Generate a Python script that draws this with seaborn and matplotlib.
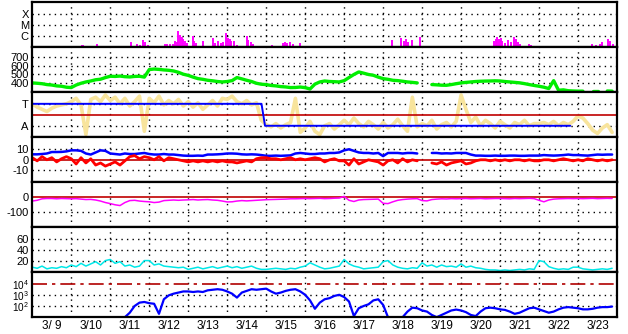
import numpy as np
import pandas as pd
import matplotlib
matplotlib.use("Agg")
import matplotlib.pyplot as plt
import seaborn as sns

# ---------------- data ----------------
day_labels = ["3/ 9", "3/10", "3/11", "3/12", "3/13", "3/14", "3/15", "3/16",
              "3/17", "3/18", "3/19", "3/20", "3/21", "3/22", "3/23"]
per_day = 8  # samples per day for the sampled series

# X-ray flare spikes (day offset, log10 flux)
xray_day = [1.27, 1.31, 1.65, 2.18, 2.38, 2.52, 2.69, 2.76, 2.85, 2.89, 2.98, 3.15,
            3.40, 3.46, 3.53, 3.60, 3.66, 3.70, 3.75, 3.79, 3.83, 3.87, 3.91, 3.96,
            4.00, 4.11, 4.15, 4.20, 4.39, 4.47, 4.64, 4.68, 4.77, 4.83, 4.90, 4.98,
            5.03, 5.07, 5.11, 5.17, 5.24, 5.50, 5.54, 5.60, 5.67, 5.84, 6.14, 6.44,
            6.48, 6.54, 6.61, 6.69, 6.78, 6.88,
            8.51, 8.66, 8.73, 8.90, 9.24, 9.47, 9.53, 9.58, 9.64, 9.73, 9.94, 10.20,
            10.35, 10.44, 11.35, 11.48, 11.56, 11.84, 11.89, 11.93, 11.97, 12.02, 12.06,
            12.12, 12.21, 12.27, 12.36, 12.40, 12.45, 12.51, 12.75, 12.80, 13.00, 13.10,
            13.23, 13.66, 14.37, 14.45, 14.56, 14.62, 14.77, 14.83, 14.89]
xray_log = [-6.82, -6.82, -6.80, -6.93, -6.90, -6.58, -6.80, -6.85, -6.36, -6.60, -6.85, -6.95,
            -6.80, -6.76, -6.80, -6.80, -6.45, -6.60, -5.60, -5.90, -6.10, -6.30, -6.50, -6.70,
            -6.90, -6.06, -6.50, -6.70, -6.45, -6.90, -6.18, -6.70, -6.50, -6.70, -6.60, -5.76,
            -6.20, -6.30, -6.50, -6.45, -6.85, -6.06, -6.40, -6.60, -6.80, -6.90, -6.85, -6.70,
            -6.55, -6.65, -6.60, -6.75, -6.90, -6.65,
            -6.90, -6.95, -6.95, -6.98, -6.43, -6.18, -6.45, -6.30, -6.60, -6.40, -6.13, -6.95,
            -6.90, -6.93, -6.98, -6.98, -6.98, -6.50, -6.30, -6.10, -6.35, -6.20, -6.45,
            -6.70, -6.40, -6.55, -6.15, -6.35, -6.60, -6.75, -6.80, -6.85, -6.90, -6.95,
            -6.95, -6.98, -6.80, -6.85, -6.75, -6.60, -6.30, -6.50, -6.75]

nan = np.nan
# solar wind speed (km/s)
speed = [404, 400, 395, 385, 380, 370, 366, 355,
         351, 380, 400, 415, 426, 440, 446, 465,
         480, 478, 482, 475, 472, 478, 480, 470,
         556, 562, 558, 552, 548, 540, 525, 503,
         490, 470, 453, 445, 434, 428, 420, 415,
         420, 430, 465, 450, 434, 420, 400, 389,
         385, 375, 370, 362, 358, 351, 352, 357,
         350, 335, 390, 415, 426, 420, 418, 415,
         430, 465, 500, 529, 515, 500, 491, 470,
         453, 445, 434, 430, 423, 415, 410, 404,
         nan, nan, 385, 382, 378, 377, 385, 395,
         404, 410, 415, 420, 423, 425, 426, 428,
         426, 420, 415, 410, 405, 396, 385, 375,
         366, 355, 340, 430, 320, 325, 315, 312,
         310, 310, nan, 310, 310, nan, 312, 310]

# IMF sector (observed, T=+1 / A=-1 scale)
sector_obs = [1.0, 0.7, 0.5, 0.3, 0.6, 0.8, 0.9, 1.0,
              1.2, 1.5, 0.9, -1.8, 1.4, 1.6, 1.2, 1.8,
              1.3, 1.6, 1.0, 1.5, 0.8, 1.2, 1.7, -1.5,
              1.5, 1.1, 1.7, 0.9, 1.3, 1.0, 1.4, 0.8,
              1.2, 0.7, 1.1, 0.5, 0.9, 1.3, 0.8, 1.5,
              1.4, 1.7, 1.2, 1.0, 1.3, 0.9, 1.1, -0.5,
              -0.9, -1.1, -0.8, -1.2, -0.9, -0.7, 1.5, -1.6,
              -1.2, -0.6, -1.5, -1.8, -1.0, -0.8, -1.3, -0.9,
              -0.5, -0.9, -0.3, -0.8, -1.1, -0.6, -0.9, -1.3,
              -0.7, -1.2, -0.9, -0.4, -1.0, -1.5, 1.6, -1.1,
              -0.8, -1.0, -0.5, -1.3, -0.9, -0.7, -1.1, -0.6,
              1.8, 0.5, -0.7, -0.2, -1.0, -0.5, -0.8, -1.2,
              -0.6, -0.9, -1.2, -0.7, -0.9, -0.5, -1.0, -0.8,
              -0.8, -0.7, -0.9, -0.6, -1.0, -0.7, -0.9, -0.6,
              -0.1, -0.3, -0.8, -1.4, -1.7, -1.2, -0.9, -1.6]
sector_pred_day = [0.0, 5.88, 5.97, 13.8]
sector_pred_val = [1, 1, -1, -1]

# IMF |B| (nT)
bt = [5.2, 5.2, 5.5, 6.0, 7.4, 7.4, 7.5, 8.0,
      9.0, 9.0, 8.5, 6.0, 5.0, 7.0, 9.0, 8.5,
      6.0, 5.5, 5.0, 6.0, 5.5, 5.5, 6.0, 6.5,
      5.5, 5.0, 5.0, 5.5, 5.0, 5.0, 4.5, 4.0,
      3.8, 3.8, 4.0, 3.8, 5.0, 5.0, 5.2, 5.5,
      6.0, 6.0, 5.8, 5.2, 5.0, 5.2, 5.0, 4.5,
      3.8, 3.8, 4.0, 3.8, 4.0, 4.2, 6.0, 6.5,
      6.0, 5.5, 5.5, 6.0, 6.0, 6.5, 6.5, 7.0,
      9.0, 10.0, 8.5, 7.0, 6.5, 6.5, 6.0, 6.5,
      3.5, 6.5, 6.5, 6.5, 6.0, 6.5, 6.5, 6.0,
      nan, nan, 6.5, 6.5, 6.0, 6.2, 6.0, 6.5,
      6.5, 6.5, 5.0, 4.0, 4.0, 3.8, 3.8, 4.0,
      3.8, 3.8, 4.0, 4.0, 3.8, 3.8, 4.0, 4.0,
      4.0, 4.5, 4.2, 4.0, 4.2, 4.5, 5.0, 4.5,
      4.5, 4.2, 4.0, 4.5, 5.0, 4.8, 5.0, 5.0]
# IMF Bz (nT)
bz = [2, -1, 3, 0, 2, -2, 1, 3,
      1, -4, 2, -3, 1, -5, -3, -6,
      -4, -2, -5, -1, 3, 4, 1, 3,
      2, 0, 3, -1, 2, 1, 0, -1,
      -2, -1, -2, -1, -2, -1, -2, -1,
      -2, -2, -3, -2, -1, -2, 1, 2,
      2, 1, 1, 0, 1, 2, 0, 1,
      0, 1, 2, 1, -2, 0, 1, -1,
      -1, -5, 1, -4, -2, 0, -1, -2,
      -5, -1, 0, -3, 1, -2, 0, -1,
      nan, nan, -3, -4, -2, -5, -3, -2,
      -1, -4, -3, -1, 0, 0, -1, 0,
      -1, 0, -1, 0, 0, -1, 0, -1,
      -1, 0, 0, -1, 0, 1, 0, -1,
      0, -1, 1, 0, -1, 0, -1, 0]

# Dst (nT)
dst = [-25, -20, -10, -8, -8, -10, -8, -9,
       -10, -9, -12, -15, -14, -18, -25, -35,
       -42, -50, -55, -35, -22, -20, -25, -28,
       -30, -35, -32, -22, -20, -18, -20, -18,
       -17, -15, -18, -16, -15, -18, -20, -25,
       -31, -30, -25, -22, -24, -22, -20, -18,
       -16, -15, -14, -13, -12, -10, -10, -9,
       -8, -9, -8, -7, -9, -8, -6, -5,
       6, -20, -28, -18, -15, -14, -13, -12,
       -40, -42, -30, -20, -15, -12, -10, -9,
       -22, -24, -15, -12, -10, -11, -9, -10,
       -9, -8, -10, -9, -8, -10, -9, -8,
       -8, -9, -10, -8, -9, -8, -7, -9,
       -20, -30, -18, -12, -10, -9, -8, -9,
       -8, -9, -8, -7, -9, -8, -7, -8]

# geomagnetic activity index
activity = [8, 6, 10, 5, 7, 6, 9, 7,
            12, 9, 15, 10, 14, 18, 12, 20,
            22, 15, 18, 10, 12, 8, 10, 20,
            20, 12, 14, 10, 9, 8, 7, 8,
            4, 6, 8, 5, 7, 9, 6, 8,
            10, 7, 9, 6, 8, 10, 6, 4,
            4, 5, 6, 5, 4, 6, 5, 8,
            10, 16, 12, 8, 5, 6, 8, 10,
            22, 14, 10, 8, 5, 6, 7, 8,
            18, 20, 12, 8, 6, 5, 7, 6,
            16, 10, 12, 8, 12, 9, 10, 8,
            14, 8, 10, 7, 6, 4, 3, 3,
            2, 3, 2, 3, 4, 3, 5, 4,
            20, 18, 9, 6, 4, 5, 4, 8,
            8, 5, 4, 3, 4, 5, 4, 6]

# energetic electron flux (log10)
electron_log = [nan] * 19 + [
    1.0, 1.4, 2.0, 2.3, 2.36,
    2.25, 2.2, 1.3, 2.6, 2.95, 3.1, 3.2, 3.3,
    3.3, 3.25, 3.3, 3.25, 3.4, 3.45, 3.5, 3.45,
    3.3, 3.1, 2.75, 3.2, 3.35, 3.5, 3.45, 3.5,
    3.55, 3.3, 3.1, 3.2, 3.35, 3.45, 3.5, 3.3,
    3.0, 2.5, 1.75, 2.3, 2.6, 2.7, 2.9, 3.0,
    2.8, 2.4, 1.1, 1.8, 2.0, 2.15, 2.5, 2.6,
    2.1, 1.0, 0.9, 0.9, 1.0, 1.5, 1.85, 1.8,
    1.6, 1.5, 1.2, 1.0, 1.2, 1.4, 1.6, 1.68,
    1.6, 1.45, 1.2, 1.1, 1.5, 1.8, 1.85, 1.8,
    1.7, 1.65, 1.5, 1.3, 1.4, 1.6, 1.8, 1.85,
    1.7, 1.55, 1.4, 1.5, 1.7, 1.85, 1.9, 1.85,
    1.8, 1.7, 1.7, 1.75, 1.85, 1.9, 1.9, 1.95]

# ---------------- style ----------------
sns.set_style("white")
plt.rcParams['font.family'] = ['Liberation Sans', 'DejaVu Sans']
plt.rcParams['mathtext.fontset'] = 'custom'
plt.rcParams['mathtext.rm'] = 'Liberation Sans'
plt.rcParams['mathtext.it'] = 'Liberation Sans'

t = np.arange(len(speed)) / per_day
W, H = 628, 334
fig = plt.figure(figsize=(W / 100, H / 100), dpi=100)
left, right = 32.3 / W, 617 / W
top_px, panel_px = 2.3, 45.0
axes = []
for i in range(7):
    y0 = 1 - (top_px + (i + 1) * panel_px) / H
    ax = fig.add_axes([left, y0, right - left, panel_px / H])
    axes.append(ax)

FS = 8.0
grid_kw = dict(color='black', lw=1.0, linestyle=(0, (1, 3)), zorder=1)
zero_kw = dict(color='#c00000', lw=1.2, zorder=3)


def seg_line(ax, x, y, **kw):
    x = np.asarray(x, float)
    y = np.asarray(y, float)
    ok = ~np.isnan(y)
    idx = np.where(ok)[0]
    if len(idx) == 0:
        return
    breaks = np.where(np.diff(idx) > 1)[0]
    starts = np.r_[0, breaks + 1]
    ends = np.r_[breaks, len(idx) - 1]
    for s, e in zip(starts, ends):
        sl = idx[s:e + 1]
        if len(sl) == 1:
            ax.plot(x[sl], y[sl], 's', ms=1.5, color=kw.get('color'))
        else:
            df = pd.DataFrame({'x': x[sl], 'y': y[sl]})
            sns.lineplot(data=df, x='x', y='y', ax=ax, estimator=None, sort=False,
                         legend=False, **kw)


def style_ax(ax, yticks, ylabels, ylim, logy=False, hgrid=None, fs=FS):
    if logy:
        ax.set_yscale('log')
    ax.set_xlim(0, 15)
    ax.set_ylim(*ylim)
    ax.set_yticks(yticks)
    ax.set_yticklabels(ylabels)
    ax.minorticks_off()
    ax.tick_params(axis='y', length=0, pad=2.5, labelsize=fs, colors='black')
    ax.tick_params(axis='x', length=0, pad=2, labelsize=FS + 0.5, colors='black')
    ax.set_xticks(np.arange(15) + 0.5)
    ax.set_xticklabels([])
    for d in range(1, 15):
        ax.axvline(d, **grid_kw)
    for yv in (hgrid if hgrid is not None else yticks):
        ax.axhline(yv, **grid_kw)
    for s in ax.spines.values():
        s.set_color('black')
        s.set_linewidth(1.6)
        s.set_zorder(10)
    ax.set_xlabel('')
    ax.set_ylabel('')


# 1 X-ray
ax = axes[0]
xb = -7.06
ax.vlines(xray_day, xb, xray_log, color='#ff00ff', lw=1.4, zorder=4)
style_ax(ax, [-6, -5, -4], ['C', 'M', 'X'], (xb, -2.97))

# 2 speed
ax = axes[1]
seg_line(ax, t, speed, color='#00ee00', lw=2.4, zorder=4)
style_ax(ax, [400, 500, 600, 700], ['400', '500', '600', '700'], (297, 810))

# 3 sector
ax = axes[2]
seg_line(ax, t, sector_obs, color='#f8e49c', lw=2.6, zorder=2)
ax.axhline(0, **zero_kw)
sns.lineplot(x=sector_pred_day, y=sector_pred_val, ax=ax, color='#0000ff', lw=1.4,
             estimator=None, sort=False, zorder=5)
style_ax(ax, [1, -1], ['T', 'A'], (-2.05, 2.05))

# 4 Bt/Bz
ax = axes[3]
ax.axhline(0, **zero_kw)
seg_line(ax, t, bt, color='#0000ff', lw=1.8, zorder=4)
seg_line(ax, t, bz, color='#ff0000', lw=2.0, zorder=5)
style_ax(ax, [10, 0, -10], ['10', '0', '-10'], (-21.4, 21.4), hgrid=[10, -10])

# 5 Dst
ax = axes[4]
ax.axhline(0, **zero_kw)
seg_line(ax, t, dst, color='#ff00ff', lw=1.1, zorder=4)
style_ax(ax, [0, -100], ['0', '-100'], (-200, 100), hgrid=[-100])

# 6 activity
ax = axes[5]
seg_line(ax, t, activity, color='#00e8e8', lw=1.1, zorder=4)
style_ax(ax, [20, 40, 60], ['20', '40', '60'], (-1.3, 80.5))

# 7 electrons
ax = axes[6]
eflux = 10 ** np.asarray(electron_log, float)
seg_line(ax, t, eflux, color='#0000ff', lw=1.6, zorder=4)
style_ax(ax, [1e2, 1e3, 1e4], [r'$10^2$', r'$10^3$', r'$10^4$'], (10 ** 0.99, 10 ** 5.01),
         logy=True, hgrid=[1e2, 1e3], fs=7.2)
ax.axhline(1e4, color='#b00000', lw=1.2, linestyle=(0, (9, 3, 2, 3)), zorder=3)
ax.set_xticklabels(day_labels)

fig.savefig('out.png', dpi=100, facecolor='white')
